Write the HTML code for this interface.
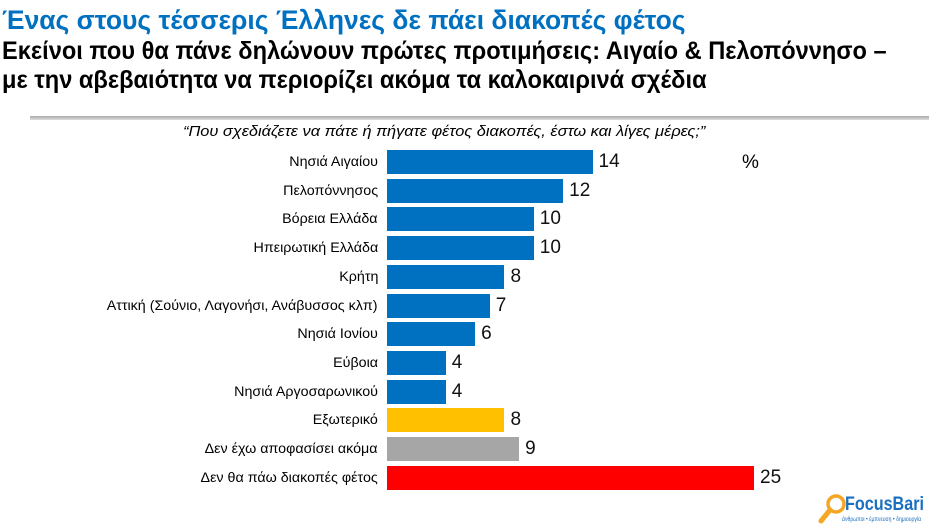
<!DOCTYPE html>
<html><head><meta charset="utf-8"><style>
body{margin:0;width:929px;height:531px;background:#fff;position:relative;overflow:hidden;font-family:"Liberation Sans","Noto Sans CJK SC",sans-serif}
.t{position:absolute;white-space:nowrap;transform-origin:0 0}
.lab{position:absolute;right:551px;font-size:14px;color:#000;white-space:nowrap;transform:scaleX(1.02);transform-origin:100% 50%}
.bar{position:absolute;left:387px;height:24px}
.val{position:absolute;font-size:19px;color:#111}
</style></head><body>
<div class="t" style="left:2px;top:5px;font-size:27px;color:#0070C0;font-weight:bold;transform:scaleX(0.98)">Ένας στους τέσσερις Έλληνες δε πάει διακοπές φέτος</div>
<div class="t" style="left:2px;top:37px;font-size:25px;color:#000;font-weight:bold;transform:scaleX(0.945);line-height:29px">Εκείνοι που θα πάνε δηλώνουν πρώτες προτιμήσεις: Αιγαίο &amp; Πελοπόννησο –<br>με την αβεβαιότητα να περιορίζει ακόμα τα καλοκαιρινά σχέδια</div>
<div style="position:absolute;left:30px;top:116px;width:899px;height:4px;background:linear-gradient(#aaa,#ddd)"></div>
<div class="t" style="left:183px;top:123px;font-size:15px;font-style:italic;color:#000;transform:scaleX(1.09)">“Που σχεδιάζετε να πάτε ή πήγατε φέτος διακοπές, έστω και λίγες μέρες;”</div>
<div style="position:absolute;left:742px;top:152px;font-size:19px">%</div>
<div id="c"></div>
<script>
var d=[["Νησιά Αιγαίου",14,"#0070C0"],["Πελοπόννησος",12,"#0070C0"],["Βόρεια Ελλάδα",10,"#0070C0"],["Ηπειρωτική Ελλάδα",10,"#0070C0"],["Κρήτη",8,"#0070C0"],["Αττική (Σούνιο, Λαγονήσι, Ανάβυσσος κλπ)",7,"#0070C0"],["Νησιά Ιονίου",6,"#0070C0"],["Εύβοια",4,"#0070C0"],["Νησιά Αργοσαρωνικού",4,"#0070C0"],["Εξωτερικό",8,"#FFC000"],["Δεν έχω αποφασίσει ακόμα",9,"#A6A6A6"],["Δεν θα πάω διακοπές φέτος",25,"#FF0000"]];
var h="";d.forEach(function(r,i){var y=150+i*28.7,w=r[1]*14.68;
h+='<div class="lab" style="top:'+(y+3)+'px">'+r[0]+'</div><div class="bar" style="top:'+y+'px;width:'+w+'px;background:'+r[2]+'"></div><div class="val" style="top:'+(y+1)+'px;left:'+(387+w+6)+'px">'+r[1]+'</div>';});
document.getElementById("c").innerHTML=h;
</script>
<svg style="position:absolute;left:818px;top:493px" width="30" height="32"><circle cx="18" cy="11" r="8" fill="none" stroke="#F5A623" stroke-width="3.5"/><line x1="12" y1="17" x2="3" y2="28" stroke="#F5A623" stroke-width="5" stroke-linecap="round"/></svg>
<div class="t" style="left:845px;top:494px;font-size:19px;font-weight:bold;color:#1a6fc0;transform:scaleX(0.85)">FocusBari</div>
<div class="t" style="left:842px;top:517px;font-size:6px;color:#1a6fc0;transform:scaleX(0.85)">άνθρωποι • έμπνευση • δημιουργία</div>
</body></html>
